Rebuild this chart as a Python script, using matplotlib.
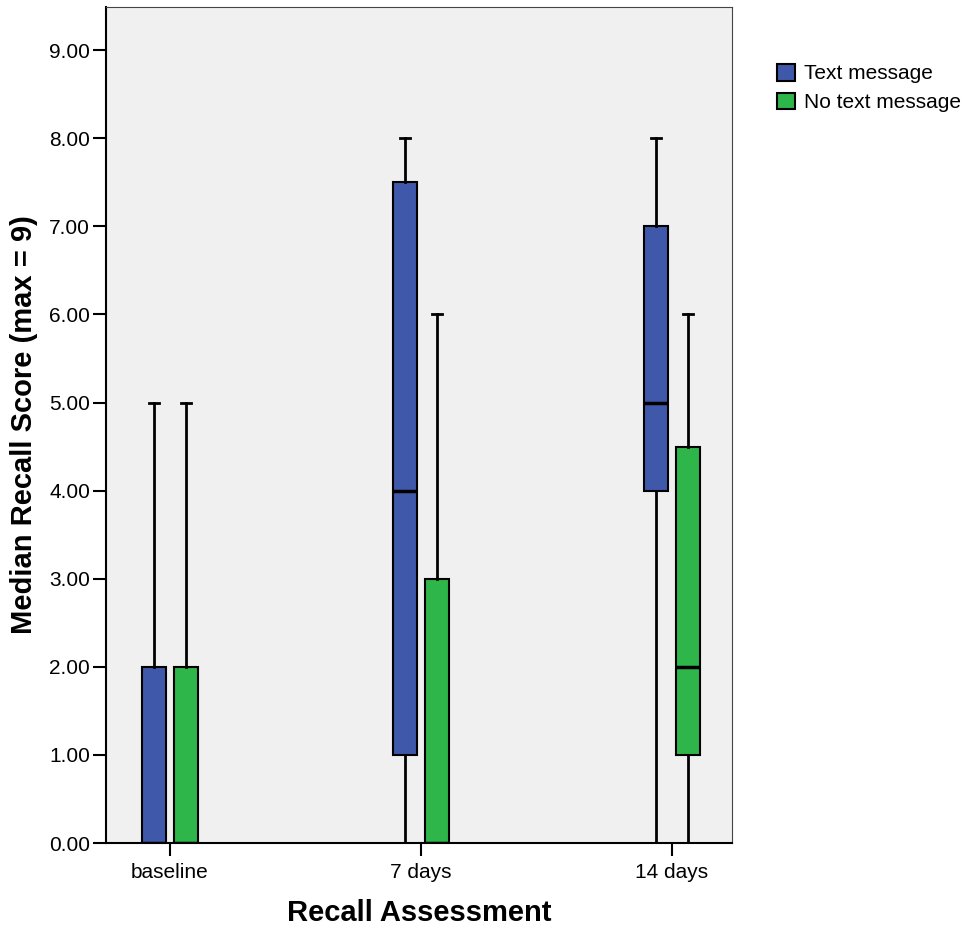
import numpy as np
import matplotlib.pyplot as plt
from matplotlib.patches import Patch

plt.rcParams['font.family'] = ['Liberation Sans', 'DejaVu Sans']

# recall scores
categories = ["baseline", "7 days", "14 days"]
groups = ["Text message", "No text message"]
colors = ["#3F58AA", "#2EB64A"]

# whisker low, q1, median, q3, whisker high
text_low = [0, 0, 0]
text_q1 = [0, 1, 4]
text_med = [0, 4, 5]
text_q3 = [2, 7.5, 7]
text_high = [5, 8, 8]

notext_low = [0, 0, 0]
notext_q1 = [0, 0, 1]
notext_med = [0, 0, 2]
notext_q3 = [2, 3, 4.5]
notext_high = [5, 6, 6]

yticks = np.arange(0, 10, 1)


def make_stats(low, q1, med, q3, high):
    return [dict(whislo=a, q1=b, med=c, q3=d, whishi=e, fliers=[])
            for a, b, c, d, e in zip(low, q1, med, q3, high)]


fig = plt.figure(figsize=(9.74, 9.26), dpi=100)
ax = fig.add_axes([0.1088, 0.0896, 0.6427, 0.9028])
ax.set_facecolor("#F0F0F0")

pos = np.arange(len(categories))
off = 0.064
w = 0.095
all_stats = [make_stats(text_low, text_q1, text_med, text_q3, text_high),
             make_stats(notext_low, notext_q1, notext_med, notext_q3, notext_high)]
for i, stats in enumerate(all_stats):
    sgn = -1 if i == 0 else 1
    ax.bxp(stats, positions=pos + sgn * off, widths=w, patch_artist=True,
           showfliers=False,
           boxprops=dict(facecolor=colors[i], edgecolor="black", linewidth=1.5),
           medianprops=dict(color="black", linewidth=2.5),
           whiskerprops=dict(color="black", linewidth=2),
           capprops=dict(color="black", linewidth=2),
           capwidths=w * 0.45, zorder=3)

ax.set_xlim(-0.255, 2.239)
ax.set_ylim(0, 9.49)
ax.set_xticks(pos)
ax.set_xticklabels(categories, fontsize=15)
ax.set_yticks(yticks)
ax.set_yticklabels(["%.2f" % v for v in yticks], fontsize=15)
ax.tick_params(axis="both", direction="out", length=9.5, width=1.5, pad=2)
ax.tick_params(axis="x", pad=5)
for s in ["left", "bottom"]:
    ax.spines[s].set_linewidth(1.5)
for s in ["top", "right"]:
    ax.spines[s].set_color("#444444")
    ax.spines[s].set_linewidth(0.8)

ax.set_xlabel("Recall Assessment", fontsize=21, fontweight="bold", labelpad=12)
ax.set_ylabel("Median Recall Score (max = 9)", fontsize=21, fontweight="bold", labelpad=8)

handles = [Patch(facecolor=c, edgecolor="black", linewidth=1.5) for c in colors]
fig.legend(handles, groups, loc="upper left", bbox_to_anchor=(0.798, 0.931),
           frameon=False, fontsize=15, handlelength=0.85, handleheight=0.85,
           handletextpad=0.45, labelspacing=0.45, borderaxespad=0, borderpad=0)

fig.savefig("out.png", dpi=100)
